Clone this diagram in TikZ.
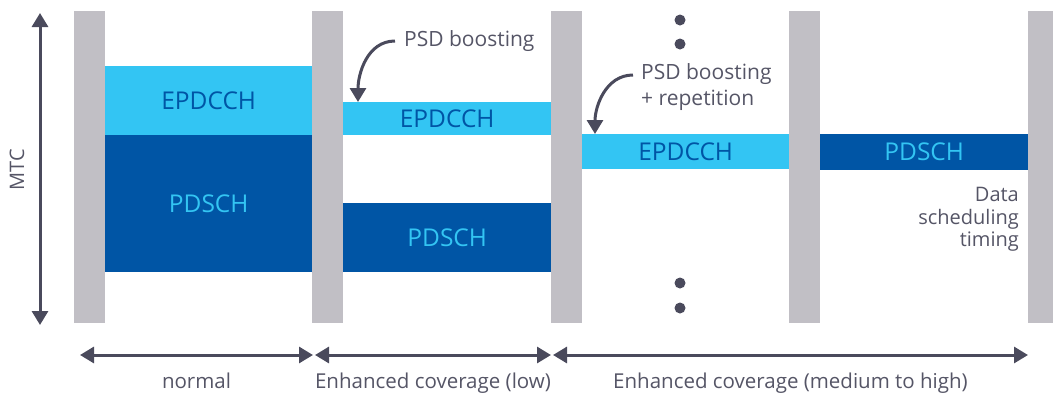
\documentclass[tikz,border=0pt]{standalone}
\usepackage{fontspec}
\setmainfont{Open Sans}
\usetikzlibrary{arrows.meta,positioning}
\definecolor{bargray}{HTML}{C1BFC5}
\definecolor{lightblue}{HTML}{33C5F3}
\definecolor{darkblue}{HTML}{0055A5}
\definecolor{arrowgray}{HTML}{4A4A5C}
\definecolor{textgray}{HTML}{555566}
\tikzset{
  bar/.style = {rectangle, fill=bargray, minimum width=31pt, minimum height=312pt, inner sep=0pt, anchor=north west},
  channel/.style = {rectangle, inner sep=0pt, anchor=north west, font=\fontsize{24.5}{24.5}\selectfont},
  epd/.style = {channel, fill=lightblue, text=darkblue},
  pds/.style = {channel, fill=darkblue, text=lightblue},
  arrow/.style = {line width=3pt, draw=arrowgray, -{Triangle[length=14pt,width=16pt]}},
  biarrow/.style = {line width=3pt, draw=arrowgray, {Triangle[length=14pt,width=16pt]}-{Triangle[length=14pt,width=16pt]}},
  note/.style = {text=textgray, inner sep=0pt, font=\fontsize{20}{22.5}\selectfont},
  dot/.style = {circle, fill=arrowgray, minimum size=11pt, inner sep=0pt}
}
\begin{document}
\begin{tikzpicture}[x=1pt, y=-1pt]
  \useasboundingbox (0,0) rectangle (1053,392);

  % grey separators
  \foreach \x/\name in {74/b1, 312/b2, 551/b3, 789/b4, 1028/b5}
    \node [bar] (\name) at (\x,11) {};

  % channel blocks
  \node [epd, minimum width=207pt, minimum height=69pt] (epdnormal) at (105,66) {EPDCCH};
  \node [pds, minimum width=207pt, minimum height=137pt] (pdsnormal) at (105,135) {PDSCH};
  \node [epd, minimum width=208pt, minimum height=33pt] (epdlow) at (343,102) {EPDCCH};
  \node [pds, minimum width=208pt, minimum height=69pt] (pdslow) at (343,203) {PDSCH};
  \node [epd, minimum width=207pt, minimum height=35pt] (epdhigh) at (582,134) {EPDCCH};
  \node [pds, minimum width=208pt, minimum height=36pt] (pdshigh) at (820,134) {PDSCH};

  % annotations
  \node [note, anchor=west, font=\fontsize{21}{26}\selectfont] (psdlow) at (404,41) {PSD boosting};
  \node [note, anchor=west, align=left, font=\fontsize{21}{26}\selectfont] (psdhigh) at (641,87) {PSD boosting\\+ repetition};
  \node [note, anchor=east, align=right] (timing) at (1019,219.5) {Data\\scheduling\\timing};
  \node [note, rotate=90] (mtc) at (17,170) {MTC};

  \draw [arrow] ([xshift=-9pt]psdlow.west) to[out=180, in=90] ([xshift=15pt]epdlow.north west);
  \draw [arrow] ([xshift=-8pt, yshift=12pt]psdhigh.west) to[out=180, in=90] ([xshift=13pt]epdhigh.north west);

  % more levels
  \foreach \y/\name in {20/d1, 44/d2, 283/d3, 308/d4}
    \node [dot] (\name) at (680,\y) {};

  % axes
  \coordinate (mtctop) at (40,13);
  \coordinate (mtcbot) at (40,325);
  \draw [biarrow] (mtctop) -- (mtcbot);

  \coordinate (c0) at (80,355);
  \coordinate (c1) at (313,355);
  \coordinate (c2) at (315,355);
  \coordinate (c3) at (551,355);
  \coordinate (c4) at (553,355);
  \coordinate (c5) at (1028,355);
  \draw [biarrow] (c0) -- node [note, below=16pt, font=\fontsize{20.5}{22.5}\selectfont] (lnormal) {normal} (c1);
  \draw [biarrow] (c2) -- node [note, below=16pt, font=\fontsize{20.5}{22.5}\selectfont] (llow) {Enhanced coverage (low)} (c3);
  \draw [biarrow] (c4) -- node [note, below=16pt, font=\fontsize{20.5}{22.5}\selectfont] (lhigh) {Enhanced coverage (medium to high)} (c5);
\end{tikzpicture}
\end{document}
